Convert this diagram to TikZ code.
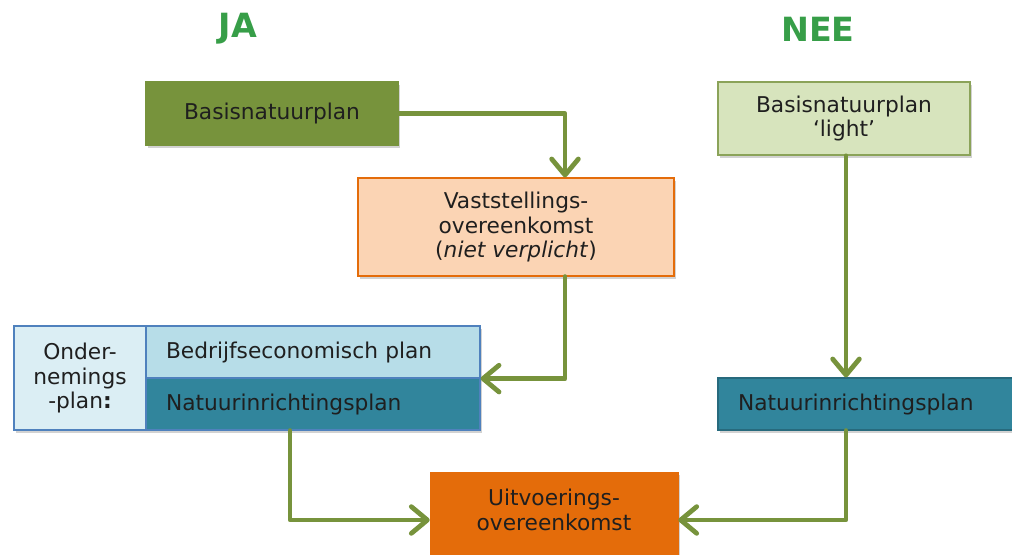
\documentclass[tikz,border=0pt]{standalone}
\usepackage{fontspec}
\setmainfont{DejaVu Sans}
\usetikzlibrary{arrows.meta,shadows,calc}
\definecolor{olive}{RGB}{119,147,60}
\definecolor{lgreen}{RGB}{215,228,189}
\definecolor{peach}{RGB}{251,212,180}
\definecolor{orng}{RGB}{228,108,10}
\definecolor{lblue}{RGB}{219,238,244}
\definecolor{mblue}{RGB}{183,221,232}
\definecolor{teal2}{RGB}{49,133,156}
\definecolor{bordblue}{RGB}{79,129,189}
\definecolor{jagreen}{RGB}{55,158,72}
\begin{document}
\begin{tikzpicture}[x=0.75pt,y=-0.75pt,
  every node/.style={font=\fontsize{16.3pt}{18.4pt}\selectfont, text=black!88, inner sep=0pt},
  shad/.style={drop shadow={shadow xshift=1.5pt,shadow yshift=-2pt,opacity=0.25,fill=black!70}},
  boxc/.style={shad, align=center, line width=0.9pt},
  boxl/.style={shad, align=left, line width=0.9pt, text width=#1, inner xsep=15pt},
  head/.style={font=\fontsize{25pt}{28pt}\selectfont\bfseries, text=jagreen},
  arr/.style={draw=olive, line width=3.6pt, line cap=round, line join=round,
    -{Straight Barb[length=12pt,width=20pt,round]}}
]
\useasboundingbox (0,0) rectangle (1012,554);
\clip (0,0) rectangle (1012,554);

\node[head] (ja) at (238,29) {JA};
\node[head] (nee) at (818,29) {NEE};

\node[boxc, fill=olive, draw=olive, minimum width=189pt, minimum height=47.25pt] (bnp) at (272,113.5) {Basisnatuurplan};
\node[boxc, fill=lgreen, draw=olive!85, line width=1.2pt, minimum width=189pt, minimum height=54.75pt] (light) at (844,118.5) {Basisnatuurplan\\‘light’};
\node[boxc, fill=peach, draw=orng, minimum width=237pt, minimum height=73.5pt] (vast) at (516,227) {Vaststellings-\\overeenkomst\\(\textit{niet verplicht})};

\node[boxc, fill=lblue, draw=bordblue, minimum width=99pt, minimum height=78pt] (ond) at (80,378) {Onder-\\nemings\\-plan\textbf{:}};
\node[boxl=220.5pt, fill=mblue, draw=bordblue, minimum width=250.5pt, minimum height=39pt] (bed) at (313,352) {Bedrijfseconomisch plan};
\node[boxl=220.5pt, fill=teal2, draw=bordblue, minimum width=250.5pt, minimum height=39pt] (nat1) at (313,404) {Natuurinrichtingsplan};
\node[boxl=204pt, fill=teal2, draw=teal2!80!black, minimum width=234pt, minimum height=39pt] (nat2) at (874,404) {Natuurinrichtingsplan};

\node[shad, fill=orng, draw=orng, minimum width=186pt, minimum height=81pt] (uit) at (554,526) {};
\node[align=center] (uittxt) at (554,510) {Uitvoerings-\\overeenkomst};

\draw[arr] (bnp.east) -| ([xshift=36.75pt]vast.north);
\draw[arr] ([xshift=36.75pt]vast.south) |- (bed.south east);
\draw[arr] ([xshift=1.5pt]light.south) -- ([xshift=1.5pt]light.south |- nat2.north);
\draw[arr] ([xshift=-17.25pt]nat1.south) |- ([yshift=4.5pt]uit.west);
\draw[arr] ([xshift=1.5pt]light.south |- nat2.south) |- ([yshift=4.5pt]uit.east);
\end{tikzpicture}
\end{document}
